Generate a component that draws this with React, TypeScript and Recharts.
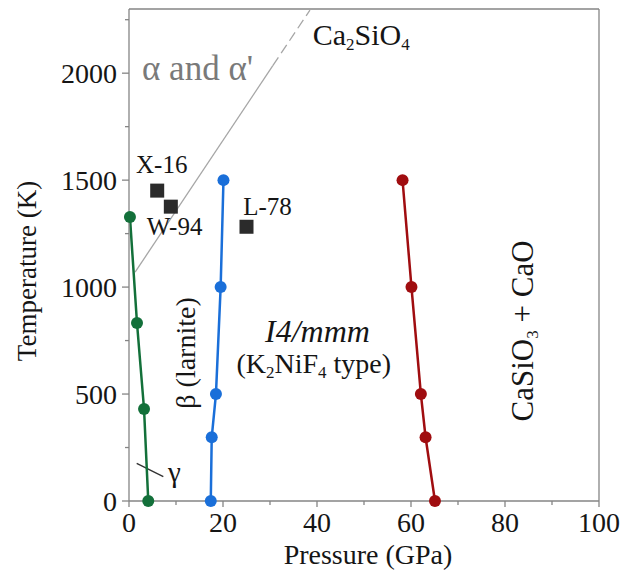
import React from 'react';
import {
  ComposedChart,
  Line,
  Scatter,
  XAxis,
  YAxis,
  ReferenceLine,
  ReferenceDot,
  Label,
} from 'recharts';

const FONT = "'Liberation Serif', 'Times New Roman', Times, serif";
const AXIS = '#858585';
const INK = '#151515';

// ---- tick values ----
const xTicks = [0, 10, 20, 30, 40, 50, 60, 70, 80, 90, 100];
const yTicks = [0, 250, 500, 750, 1000, 1250, 1500, 1750, 2000, 2250];

// ---- phase boundaries (P in GPa, T in K) ----
const gammaBetaP = [0.2, 1.7, 3.2, 4.1];
const gammaBetaT = [1328, 832, 430, 0];

const betaI4P = [17.4, 17.6, 18.5, 19.5, 20.1];
const betaI4T = [0, 298, 500, 1000, 1500];

const decompP = [65.1, 63.1, 62.1, 60.1, 58.2];
const decompT = [0, 298, 500, 1000, 1500];

const alphaSolidP = [1.3, 30.6];
const alphaSolidT = [1070, 2035];
const alphaDashP = [30.6, 38.5];
const alphaDashT = [2035, 2295];

const gammaPointerP = [1.64, 7.3];
const gammaPointerT = [176, 114];

// ---- experimental points ----
const expNames = ['X-16', 'W-94', 'L-78'];
const expP = [6.0, 8.9, 25.0];
const expT = [1451, 1376, 1282];

const zip = (ps: number[], ts: number[]) => ps.map((p, i) => ({ p, t: ts[i] }));

const gammaBeta = zip(gammaBetaP, gammaBetaT);
const betaI4 = zip(betaI4P, betaI4T);
const decomp = zip(decompP, decompT);
const alphaSolid = zip(alphaSolidP, alphaSolidT);
const alphaDash = zip(alphaDashP, alphaDashT);
const gammaPointer = zip(gammaPointerP, gammaPointerT);
const expData = expNames.map((name, i) => ({ name, p: expP[i], t: expT[i] }));

const XTick = (props: any) => {
  const { x, y, payload } = props;
  const major = payload.value % 20 === 0;
  return (
    <g>
      <line x1={x} x2={x} y1={y} y2={y + (major ? 6 : 4)} stroke={AXIS} strokeWidth={1.3} />
      {major && (
        <text x={x} y={y + 31} textAnchor="middle" fontSize={28} fontFamily={FONT} fill={INK}>
          {payload.value}
        </text>
      )}
    </g>
  );
};

const YTick = (props: any) => {
  const { x, y, payload } = props;
  const major = payload.value % 500 === 0;
  return (
    <g>
      <line x1={x - (major ? 7 : 4)} x2={x} y1={y} y2={y} stroke={AXIS} strokeWidth={1.3} />
      {major && (
        <text x={x - 12} y={y + 10} textAnchor="end" fontSize={28} fontFamily={FONT} fill={INK}>
          {payload.value}
        </text>
      )}
    </g>
  );
};

const Square = (props: any) => {
  const { cx, cy } = props;
  return <rect x={cx - 7} y={cy - 7} width={14} height={14} fill="#2b2b2b" />;
};

const note = (key: string, p: number, t: number, render: (cx: number, cy: number) => any) => (
  <ReferenceDot
    key={key}
    x={p}
    y={t}
    r={0}
    ifOverflow="visible"
    shape={(s: any) => render(s.cx, s.cy)}
  />
);

const SUB = 17;

export default function App() {
  return (
    <div style={{ position: 'absolute', left: 0, top: 0, width: 627, height: 571, background: '#fff' }}>
      <ComposedChart
        width={627}
        height={571}
        margin={{ top: 9, right: 28, bottom: 0, left: 0 }}
      >
        <XAxis
          type="number"
          dataKey="p"
          domain={[0, 100]}
          ticks={xTicks}
          interval={0}
          height={70}
          tickSize={0}
          tickMargin={0}
          tickLine={false}
          tick={<XTick />}
          axisLine={{ stroke: AXIS, strokeWidth: 1.3 }}
        >
          <Label
            content={(props: any) => {
              const vb = props.viewBox;
              return (
                <text
                  x={vb.x + vb.width / 2 + 4}
                  y={vb.y + 63}
                  textAnchor="middle"
                  fontSize={28}
                  fontFamily={FONT}
                  fill={INK}
                >
                  Pressure (GPa)
                </text>
              );
            }}
          />
        </XAxis>
        <YAxis
          type="number"
          dataKey="t"
          domain={[0, 2300]}
          ticks={yTicks}
          interval={0}
          width={129}
          tickSize={0}
          tickMargin={0}
          tickLine={false}
          tick={<YTick />}
          axisLine={{ stroke: AXIS, strokeWidth: 1.3 }}
        >
          <Label
            content={(props: any) => {
              const vb = props.viewBox;
              const cx = vb.x + 36;
              const cy = vb.y + vb.height / 2 + 16;
              return (
                <text
                  x={cx}
                  y={cy}
                  transform={`rotate(-90 ${cx} ${cy})`}
                  textAnchor="middle"
                  fontSize={27}
                  fontFamily={FONT}
                  fill={INK}
                >
                  Temperature (K)
                </text>
              );
            }}
          />
        </YAxis>

        <ReferenceLine y={2300} stroke={AXIS} strokeWidth={1.3} />
        <ReferenceLine x={100} stroke={AXIS} strokeWidth={1.3} />

        <Line
          data={alphaSolid}
          dataKey="t"
          stroke="#a6a6a6"
          strokeWidth={1.3}
          dot={false}
          isAnimationActive={false}
        />
        <Line
          data={alphaDash}
          dataKey="t"
          stroke="#a6a6a6"
          strokeWidth={1.3}
          strokeDasharray="10 5"
          dot={false}
          isAnimationActive={false}
        />
        <Line
          data={gammaPointer}
          dataKey="t"
          stroke="#333"
          strokeWidth={1.4}
          dot={false}
          isAnimationActive={false}
        />

        <Line
          data={gammaBeta}
          dataKey="t"
          stroke="#13703a"
          strokeWidth={2.5}
          dot={{ r: 6, fill: '#13703a', stroke: '#13703a', strokeWidth: 0 }}
          isAnimationActive={false}
        />
        <Line
          data={betaI4}
          dataKey="t"
          stroke="#1a6fd9"
          strokeWidth={2.5}
          dot={{ r: 6, fill: '#1a6fd9', stroke: '#1a6fd9', strokeWidth: 0 }}
          isAnimationActive={false}
        />
        <Line
          data={decomp}
          dataKey="t"
          stroke="#a00d10"
          strokeWidth={2.5}
          dot={{ r: 6, fill: '#a00d10', stroke: '#a00d10', strokeWidth: 0 }}
          isAnimationActive={false}
        />

        <Scatter data={expData} dataKey="t" shape={<Square />} isAnimationActive={false} />

        {note('alpha', 2.77, 1968, (cx, cy) => (
          <text x={cx} y={cy} fontSize={35} fontFamily={FONT} fill="#7a7a7a">
            α and α'
          </text>
        ))}
        {note('ca2sio4', 39.1, 2132, (cx, cy) => (
          <text x={cx} y={cy} fontSize={30} fontFamily={FONT} fill={INK}>
            Ca<tspan fontSize={SUB} dy={5}>2</tspan>
            <tspan dy={-5}>SiO</tspan>
            <tspan fontSize={SUB} dy={5}>4</tspan>
          </text>
        ))}
        {note('x16', 1.5, 1533, (cx, cy) => (
          <text x={cx} y={cy} fontSize={25} fontFamily={FONT} fill={INK}>
            {expNames[0]}
          </text>
        ))}
        {note('w94', 3.8, 1244, (cx, cy) => (
          <text x={cx} y={cy} fontSize={25} fontFamily={FONT} fill={INK}>
            {expNames[1]}
          </text>
        ))}
        {note('l78', 24.3, 1337, (cx, cy) => (
          <text x={cx} y={cy} fontSize={25} fontFamily={FONT} fill={INK}>
            {expNames[2]}
          </text>
        ))}
        {note('i4mmm', 40.1, 743, (cx, cy) => (
          <text x={cx} y={cy} textAnchor="middle" fontSize={32} fontStyle="italic" fontFamily={FONT} fill={INK}>
            I4/mmm
          </text>
        ))}
        {note('k2nif4', 39.3, 598, (cx, cy) => (
          <text x={cx} y={cy} textAnchor="middle" fontSize={28} fontFamily={FONT} fill={INK}>
            (K<tspan fontSize={SUB} dy={5}>2</tspan>
            <tspan dy={-5}>NiF</tspan>
            <tspan fontSize={SUB} dy={5}>4</tspan>
            <tspan dy={-5}> type)</tspan>
          </text>
        ))}
        {note('beta', 14.0, 692, (cx, cy) => (
          <text
            x={cx}
            y={cy}
            transform={`rotate(-90 ${cx} ${cy})`}
            textAnchor="middle"
            fontSize={28}
            fontFamily={FONT}
            fill={INK}
          >
            β (larnite)
          </text>
        ))}
        {note('casio3', 85.9, 795, (cx, cy) => (
          <text
            x={cx}
            y={cy}
            transform={`rotate(-90 ${cx} ${cy})`}
            textAnchor="middle"
            fontSize={31}
            fontFamily={FONT}
            fill={INK}
          >
            CaSiO<tspan fontSize={SUB} dy={5}>3</tspan>
            <tspan dy={-5}> + CaO</tspan>
          </text>
        ))}
        {note('gamma', 8.3, 89, (cx, cy) => (
          <text x={cx} y={cy} fontSize={29} fontFamily={FONT} fill={INK}>
            γ
          </text>
        ))}
      </ComposedChart>
    </div>
  );
}
